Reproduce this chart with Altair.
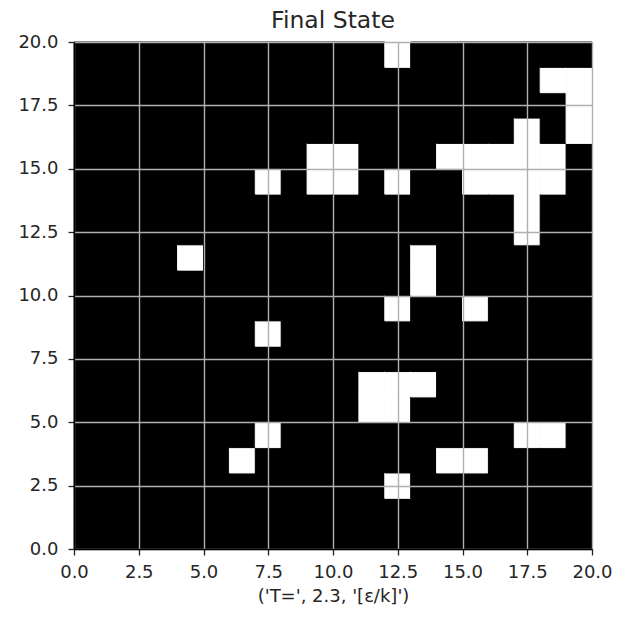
import altair as alt
import pandas as pd

N = 20
# white (spin up) cells: column index (x) and row index (y, from bottom)
white_cols = [12, 18, 19, 19, 19, 17, 7, 9, 10, 9, 10, 12, 14, 15, 16, 17, 18, 15, 16, 17, 18,
              17, 17, 4, 13, 13, 12, 15, 7, 11, 12, 13, 11, 12, 17, 18, 7, 6, 14, 15, 12]
white_rows = [19, 18, 18, 17, 16, 16, 14, 14, 14, 15, 15, 14, 15, 14, 14, 14, 14, 15, 15, 15, 15,
              13, 12, 11, 11, 10, 9, 9, 8, 6, 6, 6, 5, 5, 4, 4, 4, 3, 3, 3, 2]
tick_values = [0.0, 2.5, 5.0, 7.5, 10.0, 12.5, 15.0, 17.5, 20.0]
title_text = "Final State"
x_title = "('T=', 2.3, '[ε/k]')"

up = set(zip(white_cols, white_rows))
records = []
for i in range(N):
    for j in range(N):
        records.append({"x": i, "x2": i + 1, "y": j, "y2": j + 1,
                        "spin": 1 if (i, j) in up else -1})
df = pd.DataFrame(records)
bg = pd.DataFrame({"x": [0], "x2": [N], "y": [0], "y2": [N]})

font = "DejaVu Sans"
axis_common = dict(
    values=tick_values, format=".1f", grid=True, gridColor="#b0b0b0", gridWidth=1.4,
    domain=True, domainColor="black", domainWidth=1.3, ticks=True, tickColor="#222222",
    tickSize=6, tickWidth=1.3, labelFont=font, labelFontSize=18, labelColor="#262626",
    labelFlush=False, labelOverlap=False,
    titleFont=font, titleFontSize=18, titleColor="#262626",
    titleFontWeight="normal", zindex=1,
)

xs = alt.Scale(domain=[0, 20], nice=False, zero=False)
ys = alt.Scale(domain=[0, 20], nice=False, zero=False)
scale_c = alt.Scale(domain=[-1, 1], range=["black", "white"])

base = alt.Chart(bg).mark_rect(color="black").encode(
    x=alt.X("x:Q", scale=xs,
            axis=alt.Axis(title=x_title, titlePadding=6, labelPadding=8, **axis_common)),
    x2="x2:Q",
    y=alt.Y("y:Q", scale=ys, axis=alt.Axis(title=None, labelPadding=10, **axis_common)),
    y2="y2:Q",
)

cells = alt.Chart(df).mark_rect(strokeWidth=1).encode(
    x=alt.X("x:Q", scale=xs),
    x2="x2:Q",
    y=alt.Y("y:Q", scale=ys),
    y2="y2:Q",
    color=alt.Color("spin:Q", scale=scale_c, legend=None),
    stroke=alt.Stroke("spin:Q", scale=scale_c, legend=None),
)

chart = alt.layer(base, cells).properties(
    width=518, height=507,
    title=alt.TitleParams(title_text, font=font, fontSize=23.5, fontWeight="normal",
                          color="#262626", offset=1),
    autosize="none",
    padding={"left": 74, "top": 42, "right": 33, "bottom": 69},
).configure_view(stroke="black", strokeWidth=1.3).configure(background="white")

chart.save("out.html", embed_options={"renderer": "svg", "actions": False})
